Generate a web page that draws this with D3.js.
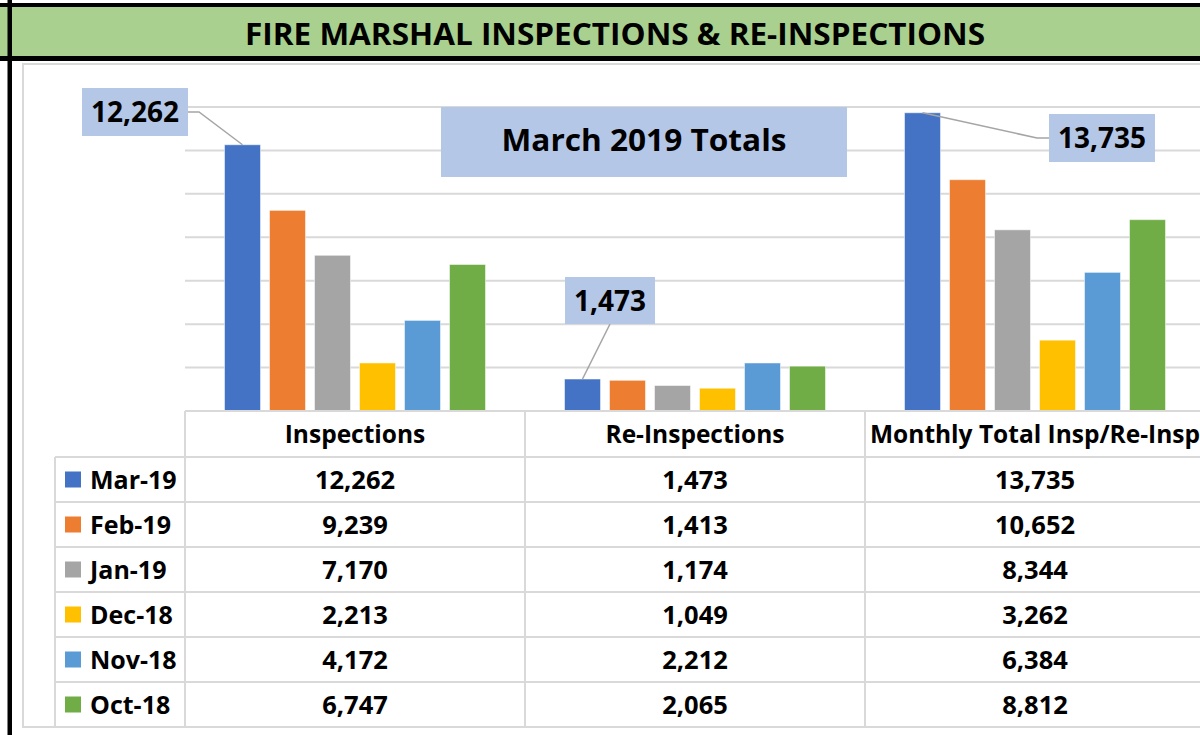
<!DOCTYPE html>
<html>
<head>
<meta charset="utf-8">
<script src="https://cdn.jsdelivr.net/npm/d3@7"></script>
<style>
    body { margin: 0; background: #fff; }
    svg { display: block; font-family: "Open Sans", "Noto Sans", sans-serif; font-weight: bold; }
</style>
</head>
<body>
<svg id="chart" width="1200" height="735"></svg>
<script>
// data
var categories = ["Inspections", "Re-Inspections", "Monthly Total Insp/Re-Insp"];
var months = ["Mar-19", "Feb-19", "Jan-19", "Dec-18", "Nov-18", "Oct-18"];
var inspections = [12262, 9239, 7170, 2213, 4172, 6747];
var reInspections = [1473, 1413, 1174, 1049, 2212, 2065];
var monthlyTotals = [13735, 10652, 8344, 3262, 6384, 8812];
var yTicks = [0, 2000, 4000, 6000, 8000, 10000, 12000, 14000];
var colors = ["#4472c4", "#ed7d31", "#a5a5a5", "#ffc000", "#5b9bd5", "#70ad47"];

var seriesByCat = [inspections, reInspections, monthlyTotals];
var fmt = d3.format(",");
var svg = d3.select("#chart");
var gridColor = "#d9d9d9";

var x = d3.scaleBand().domain(categories).range([185, 1205]);
var xm = d3.scaleBand().domain(months).range([0, x.bandwidth()])
    .paddingInner(0.2).paddingOuter(0.878);
var y = d3.scaleLinear().domain([0, 14000]).range([411, 107]);
var color = d3.scaleOrdinal().domain(months).range(colors);

// chart frame
svg.append("rect")
    .attr("x", 23).attr("y", 64).attr("width", 1220).attr("height", 663)
    .attr("fill", "#fff").attr("stroke", gridColor).attr("stroke-width", 2);

// gridlines
svg.append("g").selectAll("line")
    .data(yTicks.slice(1))
    .join("line")
    .attr("x1", 185).attr("x2", 1205)
    .attr("y1", d => y(d)).attr("y2", d => y(d))
    .attr("stroke", gridColor).attr("stroke-width", 2);

// bars
var groups = svg.append("g").selectAll("g")
    .data(categories)
    .join("g")
    .attr("transform", d => `translate(${x(d)},0)`);

groups.selectAll("rect")
    .data((c, i) => months.map((m, j) => ({ month: m, value: seriesByCat[i][j] })))
    .join("rect")
    .attr("x", d => xm(d.month))
    .attr("width", xm.bandwidth())
    .attr("y", d => y(d.value))
    .attr("height", d => y(0) - y(d.value))
    .attr("fill", d => color(d.month))
    .attr("stroke", "#fff").attr("stroke-opacity", 0.5).attr("stroke-width", 1);

// data table
var headerTop = y(0), headerH = 46, rowH = 45;
var rowTop = headerTop + headerH;
var table = svg.append("g").attr("stroke", gridColor).attr("stroke-width", 2);

table.append("line")
    .attr("x1", 185).attr("x2", 1205)
    .attr("y1", headerTop).attr("y2", headerTop);

table.selectAll("line.row")
    .data(d3.range(months.length + 1))
    .join("line")
    .attr("class", "row")
    .attr("x1", 55).attr("x2", 1205)
    .attr("y1", i => rowTop + i * rowH).attr("y2", i => rowTop + i * rowH);

table.append("line")
    .attr("x1", 55).attr("x2", 55)
    .attr("y1", rowTop).attr("y2", rowTop + months.length * rowH);

table.selectAll("line.col")
    .data(categories)
    .join("line")
    .attr("class", "col")
    .attr("x1", d => x(d)).attr("x2", d => x(d))
    .attr("y1", headerTop).attr("y2", rowTop + months.length * rowH);

// header text
svg.append("g").selectAll("text")
    .data(categories)
    .join("text")
    .attr("x", d => x(d) + x.bandwidth() / 2)
    .attr("y", headerTop + 32)
    .attr("text-anchor", "middle")
    .attr("font-size", 24.5)
    .attr("fill", "#000")
    .text(d => d);

// legend cells
var rows = svg.append("g").selectAll("g")
    .data(months)
    .join("g")
    .attr("transform", (d, i) => `translate(0,${rowTop + i * rowH})`);

rows.append("rect")
    .attr("x", 65).attr("y", rowH / 2 - 8)
    .attr("width", 16).attr("height", 16)
    .attr("fill", d => color(d));

rows.append("text")
    .attr("x", 90).attr("y", rowH / 2 + 9)
    .attr("font-size", 25)
    .attr("fill", "#000")
    .text(d => d);

rows.selectAll("text.val")
    .data((m, j) => categories.map((c, i) => ({ cat: c, value: seriesByCat[i][j] })))
    .join("text")
    .attr("class", "val")
    .attr("x", d => x(d.cat) + x.bandwidth() / 2)
    .attr("y", rowH / 2 + 9)
    .attr("text-anchor", "middle")
    .attr("font-size", 25.5)
    .attr("fill", "#000")
    .text(d => fmt(d.value));

// callouts
var boxFill = "#b4c7e7";
var leader = "#a5a5a5";

function barTop(catIdx, monthIdx) {
    var c = categories[catIdx];
    return [x(c) + xm(months[monthIdx]) + xm.bandwidth() / 2, y(seriesByCat[catIdx][monthIdx])];
}

function callout(box, value, pts) {
    svg.append("polyline")
        .attr("points", pts.map(p => p.join(",")).join(" "))
        .attr("fill", "none").attr("stroke", leader).attr("stroke-width", 1.5);
    svg.append("rect")
        .attr("x", box[0]).attr("y", box[1])
        .attr("width", box[2]).attr("height", box[3])
        .attr("fill", boxFill);
    svg.append("text")
        .attr("x", box[0] + box[2] / 2).attr("y", box[1] + box[3] / 2 + 10)
        .attr("text-anchor", "middle")
        .attr("font-size", 28)
        .attr("fill", "#000")
        .text(fmt(value));
}

var t1 = barTop(0, 0);
callout([82, 88, 106, 48], inspections[0], [[188, 112], [199, 112], t1]);

var t2 = barTop(1, 0);
callout([565, 277, 90, 47], reInspections[0], [[610, 324], t2]);

var t3 = barTop(2, 0);
callout([1049, 114, 106, 48], monthlyTotals[0], [t3, [1037, 138], [1049, 138]]);

// centre label
svg.append("rect")
    .attr("x", 441).attr("y", 107).attr("width", 406).attr("height", 70)
    .attr("fill", boxFill);
svg.append("text")
    .attr("x", 644).attr("y", 151)
    .attr("text-anchor", "middle")
    .attr("font-size", 31)
    .attr("textLength", 285).attr("lengthAdjust", "spacingAndGlyphs")
    .attr("fill", "#000")
    .text("March 2019 Totals");

// title band
svg.append("rect")
    .attr("x", 0).attr("y", 5).attr("width", 1200).attr("height", 54)
    .attr("fill", "#a9d08e");
svg.append("rect")
    .attr("x", 0).attr("y", 3).attr("width", 1200).attr("height", 4)
    .attr("fill", "#000");
svg.append("rect")
    .attr("x", 0).attr("y", 56).attr("width", 1200).attr("height", 5)
    .attr("fill", "#000");
svg.append("text")
    .attr("x", 615).attr("y", 45)
    .attr("text-anchor", "middle")
    .attr("font-size", 31)
    .attr("textLength", 740).attr("lengthAdjust", "spacingAndGlyphs")
    .attr("fill", "#000")
    .text("FIRE MARSHAL INSPECTIONS & RE-INSPECTIONS");

// left black border
svg.append("rect")
    .attr("x", 7.5).attr("y", 0).attr("width", 4.5).attr("height", 735)
    .attr("fill", "#000");
</script>
</body>
</html>
